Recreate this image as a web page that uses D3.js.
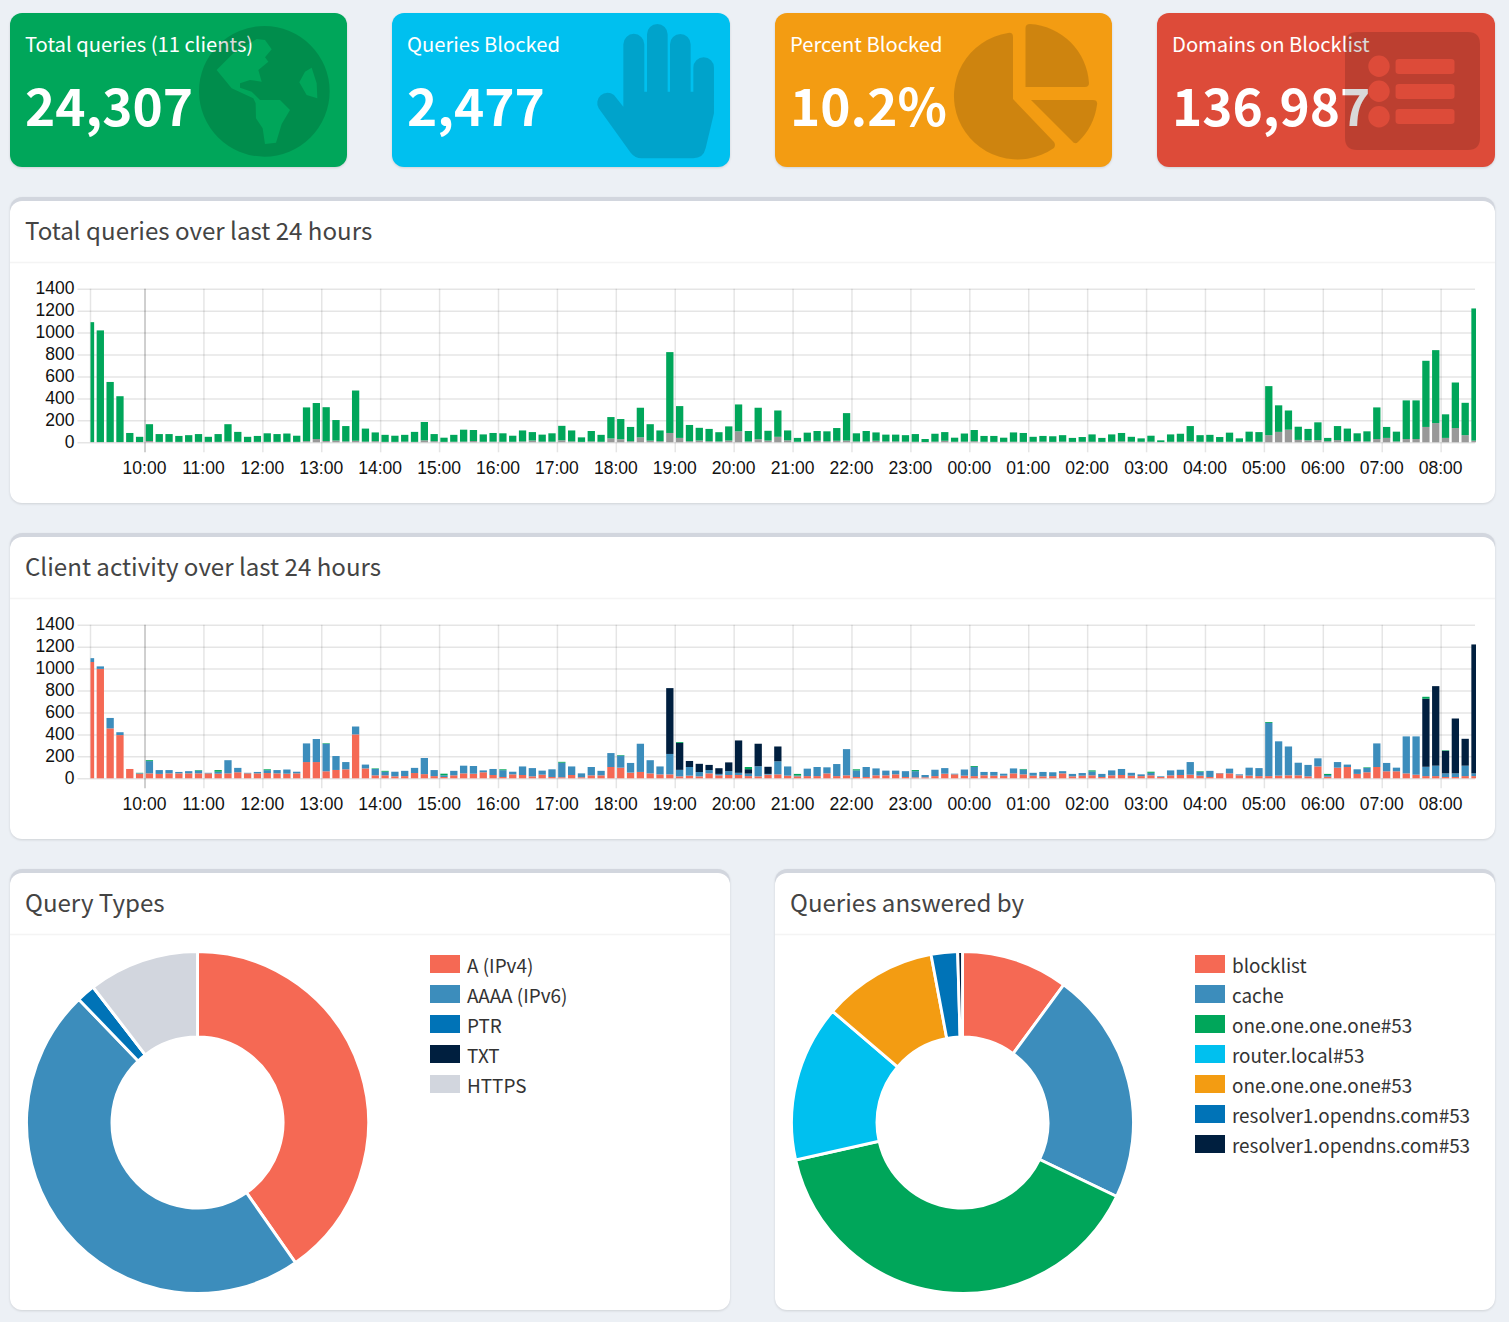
<!DOCTYPE html>
<html>
<head>
<meta charset="utf-8">
<title>Dashboard</title>
<script src="https://cdn.jsdelivr.net/npm/d3@7"></script>
<style>
  body { margin: 0; background: #ecf0f5; }
  svg { display: block; font-family: "Noto Sans CJK SC", "Noto Sans", sans-serif; }
  .tick text { font-family: "Liberation Sans", Arial, sans-serif; font-size: 17.5px; fill: #111; }
  .domain { display: none; }
</style>
</head>
<body>
<div id="dash"></div>
<script>
/**
 * Summary cards on the top row.
 */
const cardLabels = ["Total queries (11 clients)", "Queries Blocked", "Percent Blocked", "Domains on Blocklist"];
const cardValues = ["24,307", "2,477", "10.2%", "136,987"];

/**
 * Tick labels of both bar charts.
 */
const hourLabels = ["10:00", "11:00", "12:00", "13:00", "14:00", "15:00", "16:00", "17:00", "18:00", "19:00", "20:00",
  "21:00", "22:00", "23:00", "00:00", "01:00", "02:00", "03:00", "04:00", "05:00", "06:00", "07:00", "08:00"];
const countTicks = [0, 200, 400, 600, 800, 1000, 1200, 1400];

/**
 * Queries per 10 minute slot, first slot is 09:05.
 */
const queriesTotal = [
  1095, 1020, 550, 420, 85, 50, 165, 75, 75, 58,
  65, 75, 50, 75, 165, 95, 50, 58, 82, 75,
  80, 60, 318, 358, 320, 203, 148, 472, 125, 90,
  68, 60, 68, 95, 185, 75, 42, 68, 115, 112,
  72, 85, 82, 60, 108, 93, 70, 82, 150, 108,
  45, 103, 68, 230, 212, 140, 315, 165, 108, 822,
  330, 158, 132, 122, 92, 145, 345, 103, 315, 105,
  290, 108, 40, 88, 103, 100, 130, 266, 82, 103,
  90, 70, 70, 65, 75, 30, 78, 93, 42, 80,
  112, 58, 58, 42, 90, 85, 50, 58, 55, 65,
  40, 48, 72, 40, 72, 85, 50, 36, 60, 18,
  72, 78, 148, 65, 68, 48, 88, 36, 97, 93,
  512, 337, 290, 142, 122, 182, 40, 148, 125, 82,
  100, 318, 140, 97, 382, 382, 743, 840, 255, 545,
  360, 1220];

const queriesBlocked = [
  3, 3, 3, 3, 3, 3, 12, 4, 4, 4,
  4, 4, 4, 4, 8, 5, 3, 4, 4, 4,
  4, 4, 10, 30, 12, 16, 8, 14, 6, 10,
  4, 4, 6, 4, 18, 10, 4, 5, 6, 12,
  5, 6, 5, 5, 8, 16, 6, 6, 18, 8,
  4, 8, 5, 35, 28, 10, 45, 15, 10, 85,
  40, 10, 16, 10, 8, 16, 100, 8, 28, 16,
  50, 18, 5, 8, 14, 10, 14, 16, 8, 8,
  14, 8, 8, 6, 5, 3, 6, 14, 5, 6,
  10, 5, 4, 4, 5, 4, 5, 6, 4, 6,
  4, 5, 5, 4, 5, 8, 6, 5, 6, 3,
  5, 5, 10, 5, 5, 4, 5, 4, 6, 5,
  65, 95, 115, 22, 18, 20, 10, 20, 10, 10,
  8, 30, 40, 8, 30, 30, 140, 175, 40, 130,
  65, 15];

/**
 * Client activity, the blue client fills what is left of the slot's total.
 */
const clientRed = [
  1060, 997, 455, 394, 85, 42, 45, 40, 45, 45,
  45, 45, 45, 42, 45, 55, 45, 45, 48, 45,
  42, 45, 148, 148, 64, 76, 82, 400, 90, 27,
  27, 18, 20, 48, 38, 20, 12, 27, 45, 42,
  55, 30, 12, 36, 30, 18, 33, 12, 10, 30,
  10, 27, 27, 103, 97, 52, 58, 45, 36, 36,
  18, 24, 18, 45, 27, 30, 30, 20, 18, 33,
  36, 24, 18, 20, 20, 45, 20, 27, 12, 12,
  27, 27, 36, 12, 9, 9, 20, 42, 36, 24,
  20, 27, 24, 24, 45, 36, 24, 18, 20, 45,
  18, 24, 27, 12, 27, 30, 24, 20, 27, 12,
  27, 30, 33, 24, 12, 45, 45, 27, 24, 20,
  20, 24, 27, 27, 18, 108, 15, 97, 103, 40,
  55, 103, 64, 64, 45, 33, 20, 20, 12, 12,
  20, 20];

const clientNavy = [
  0, 0, 0, 0, 0, 0, 0, 0, 0, 0,
  0, 0, 0, 0, 0, 0, 0, 0, 0, 0,
  0, 0, 0, 0, 0, 0, 0, 0, 0, 0,
  0, 0, 0, 0, 0, 0, 0, 0, 0, 0,
  0, 0, 0, 0, 0, 0, 0, 0, 0, 0,
  0, 0, 0, 0, 0, 0, 0, 0, 0, 600,
  245, 55, 75, 47, 52, 80, 295, 40, 205, 65,
  135, 0, 0, 0, 0, 0, 0, 0, 0, 0,
  0, 0, 0, 0, 0, 0, 0, 0, 0, 0,
  0, 0, 0, 0, 0, 0, 0, 0, 0, 0,
  0, 0, 0, 0, 0, 0, 0, 0, 0, 0,
  0, 0, 0, 0, 0, 0, 0, 0, 0, 0,
  0, 0, 0, 0, 0, 0, 0, 0, 0, 0,
  0, 0, 0, 0, 0, 0, 620, 725, 205, 500,
  245, 1175];

const clientGreen = [
  0, 0, 0, 0, 0, 3, 8, 0, 0, 0,
  0, 5, 0, 15, 0, 0, 0, 0, 8, 0,
  0, 0, 0, 0, 5, 0, 0, 0, 0, 5,
  8, 0, 0, 0, 0, 0, 15, 0, 0, 0,
  0, 0, 8, 0, 0, 0, 0, 0, 8, 0,
  0, 0, 0, 0, 5, 0, 0, 0, 0, 0,
  8, 0, 0, 0, 0, 0, 0, 20, 0, 0,
  0, 0, 15, 0, 0, 0, 0, 0, 10, 0,
  0, 0, 0, 0, 10, 0, 0, 0, 0, 0,
  8, 0, 0, 0, 0, 5, 0, 0, 0, 0,
  0, 0, 10, 0, 0, 0, 0, 0, 10, 0,
  0, 0, 0, 5, 0, 0, 0, 0, 0, 0,
  8, 0, 0, 0, 0, 0, 10, 0, 0, 0,
  5, 0, 0, 0, 0, 0, 18, 0, 5, 0,
  0, 0];

/**
 * Doughnut charts.
 */
const queryTypeLabels = ["A (IPv4)", "AAAA (IPv6)", "PTR", "TXT", "HTTPS"];
const queryTypeValues = [40.3, 47.5, 1.75, 0.01, 10.45];
const answeredLabels = ["blocklist", "cache", "one.one.one.one#53", "router.local#53", "one.one.one.one#53", "resolver1.opendns.com#53", "resolver1.opendns.com#53"];
const answeredValues = [10.1, 22.05, 39.4, 14.8, 10.8, 2.5, 0.45];

const red = "#f56954", blue = "#3c8dbc", green = "#00a65a", cyan = "#00c0ef",
      orange = "#f39c12", midBlue = "#0073b7", navy = "#001f3f", silver = "#d2d6de";

const svg = d3.select("#dash").append("svg")
  .attr("width", 1509)
  .attr("height", 1322);

/* ---- summary cards ---- */
const cards = [
  { x: 10, w: 337, color: green },
  { x: 392, w: 338, color: cyan },
  { x: 775, w: 337, color: orange },
  { x: 1157, w: 338, color: "#dd4b39" }
];

cards.forEach((card, i) => {
  svg.append("rect")
    .attr("x", card.x).attr("y", 13)
    .attr("width", card.w).attr("height", 154)
    .attr("rx", 12)
    .attr("fill", card.color)
    .style("filter", "drop-shadow(0 1px 1px rgba(0,0,0,0.12))");
  svg.append("text")
    .attr("x", card.x + 15).attr("y", 52)
    .attr("fill", "#fff").attr("font-size", 20.2)
    .text(cardLabels[i]);
  svg.append("text")
    .attr("x", card.x + 15).attr("y", 126)
    .attr("fill", "#fff").attr("font-size", 51.3).attr("font-weight", 700)
    .text(cardValues[i]);
});

/* the icons sit over the text, the number on the red card shows it */
const icon = svg.append("g").attr("fill", "rgba(0,0,0,0.15)").attr("fill-rule", "evenodd");

icon.append("path")
  .attr("transform", "translate(190,20) scale(0.3333)")
  .attr("d", "M223 18 A196 196 0 1 0 223 410 A196 196 0 1 0 223 18 Z " +
    "M200 57 L225 60 L245 88 L225 112 L235 125 L205 150 L215 185 L180 180 L150 190 L150 203 L185 215 L210 240 L270 240 L300 270 L275 312 L258 368 L225 372 L218 325 L198 295 L197 250 L190 235 L125 205 L80 150 L130 100 Z " +
    "M365 143 L380 190 L382 235 L350 225 L328 187 L345 155 Z");

icon.append("path")
  .attr("transform", "translate(590,20) scale(0.3333)")
  .attr("d", "M100 73 A31 31 0 0 1 163 73 V215 H171 V43 A31 31 0 0 1 233 43 V215 H240 V73 A31 31 0 0 1 302 73 V215 H310 V143 A31 31 0 0 1 372 143 V280 L347 385 Q340 415 310 415 H155 Q135 415 122 398 L26 265 A31 31 0 0 1 72 225 L100 260 Z");

icon.append("path")
  .attr("d", "M1013 99 V37 Q1013 32 1008 33 A63.6 63.6 0 1 0 1054 148 Q1056 145 1054 142 Z " +
    "M1025.5 87 V28 Q1025.5 24 1030 24 A63 63 0 0 1 1089 83 Q1089 87 1085 87 Z " +
    "M1031 100 H1093 Q1098 100 1097 105 A63 63 0 0 1 1078 142 Q1075 145 1072 141 Z");

icon.append("path")
  .attr("d", "M1357 32 H1468 Q1480 32 1480 44 V138 Q1480 150 1468 150 H1357 Q1345 150 1345 138 V44 Q1345 32 1357 32 Z " +
    "M1379 55.5 A10.7 10.7 0 1 0 1379 76.9 A10.7 10.7 0 1 0 1379 55.5 Z " +
    "M1379 80.5 A10.7 10.7 0 1 0 1379 101.9 A10.7 10.7 0 1 0 1379 80.5 Z " +
    "M1379 106 A10.7 10.7 0 1 0 1379 127.4 A10.7 10.7 0 1 0 1379 106 Z " +
    "M1399 59 H1451 Q1454.5 59 1454.5 62 V71 Q1454.5 74 1451 74 H1399 Q1395.6 74 1395.6 71 V62 Q1395.6 59 1399 59 Z " +
    "M1399 84 H1451 Q1454.5 84 1454.5 87 V96 Q1454.5 99 1451 99 H1399 Q1395.6 99 1395.6 96 V87 Q1395.6 84 1399 84 Z " +
    "M1399 109 H1451 Q1454.5 109 1454.5 112 V121 Q1454.5 124 1451 124 H1399 Q1395.6 124 1395.6 121 V112 Q1395.6 109 1399 109 Z");

/**
 * White panel with the grey top edge, a title and a header rule.
 */
function drawBox(x, y, w, h, title) {
  svg.append("rect")
    .attr("x", x).attr("y", y)
    .attr("width", w).attr("height", h)
    .attr("rx", 12)
    .attr("fill", silver)
    .style("filter", "drop-shadow(0 1px 1px rgba(0,0,0,0.12))");
  svg.append("rect")
    .attr("x", x).attr("y", y + 4)
    .attr("width", w).attr("height", h - 4)
    .attr("rx", 12)
    .attr("fill", "#fff");
  svg.append("line")
    .attr("x1", x).attr("x2", x + w)
    .attr("y1", y + 65.5).attr("y2", y + 65.5)
    .attr("stroke", "#f4f4f4").attr("stroke-width", 1.5);
  svg.append("text")
    .attr("x", x + 15).attr("y", y + 43)
    .attr("fill", "#444").attr("font-size", 24.1)
    .text(title);
}

drawBox(10, 197, 1485, 306, "Total queries over last 24 hours");
drawBox(10, 533, 1485, 306, "Client activity over last 24 hours");
drawBox(10, 869, 720, 441, "Query Types");
drawBox(775, 869, 720, 441, "Queries answered by");

/* ---- bar charts ---- */
const firstSlot = new Date(2024, 0, 1, 9, 5);
const firstHour = new Date(2024, 0, 1, 10, 0);
const slotTimes = queriesTotal.map((d, i) => d3.timeMinute.offset(firstSlot, i * 10));
const hourTimes = hourLabels.map((d, i) => d3.timeHour.offset(firstHour, i));

const xTime = d3.scaleTime()
  .domain([slotTimes[0], slotTimes[slotTimes.length - 1]])
  .range([90.5, 1475]);
const plotWidth = 1475 - 90.5;
const barWidth = 7.3;

/**
 * One stacked bar chart, the series are stacked in the given order.
 */
function drawBars(zeroY, topY, keys, colors, rows, clipName) {
  const yCount = d3.scaleLinear().domain([0, 1400]).range([zeroY, topY]);
  const height = zeroY - topY;
  const chart = svg.append("g");

  /* y grid */
  const yAxis = chart.append("g")
    .attr("transform", "translate(90.5,0)")
    .call(d3.axisLeft(yCount).tickValues(countTicks).tickFormat(d => d).tickSize(13).tickPadding(3));
  yAxis.selectAll(".tick line")
    .attr("x1", -13).attr("x2", plotWidth)
    .attr("stroke", "rgba(0,0,0,0.1)").attr("stroke-width", 1.5);
  yAxis.selectAll(".tick text").attr("dy", "0.27em");

  /* x grid */
  const xAxis = chart.append("g")
    .attr("transform", "translate(0," + zeroY + ")")
    .call(d3.axisBottom(xTime).tickValues(hourTimes).tickFormat((d, i) => hourLabels[i]).tickSize(10));
  xAxis.selectAll(".tick line")
    .attr("y1", -height).attr("y2", 10)
    .attr("stroke", (d, i) => i == 0 ? "rgba(0,0,0,0.25)" : "rgba(0,0,0,0.1)")
    .attr("stroke-width", 1.5);
  xAxis.selectAll(".tick text").attr("x", -0.5).attr("y", 32).attr("dy", 0);

  chart.append("line")
    .attr("x1", 90.5).attr("x2", 90.5)
    .attr("y1", topY).attr("y2", zeroY)
    .attr("stroke", "rgba(0,0,0,0.1)").attr("stroke-width", 1.5);

  svg.append("clipPath").attr("id", clipName)
    .append("rect")
    .attr("x", 90.5).attr("y", topY)
    .attr("width", plotWidth + 1).attr("height", height + 1);

  const stacked = d3.stack().keys(keys)(rows);
  chart.append("g").attr("clip-path", "url(#" + clipName + ")")
    .selectAll("g")
    .data(stacked)
    .join("g")
    .attr("fill", (d, i) => colors[i])
    .selectAll("rect")
    .data(d => d)
    .join("rect")
    .attr("x", (d, i) => xTime(slotTimes[i]) - barWidth / 2)
    .attr("width", barWidth)
    .attr("y", d => yCount(d[1]))
    .attr("height", d => yCount(d[0]) - yCount(d[1]));
}

const queryRows = queriesTotal.map((total, i) => ({
  blocked: queriesBlocked[i],
  permitted: total - queriesBlocked[i]
}));
drawBars(442.3, 288.7, ["blocked", "permitted"], ["#999999", green], queryRows, "clipQueries");

const clientRows = queriesTotal.map((total, i) => ({
  red: clientRed[i],
  blue: Math.max(0, total - clientRed[i] - clientNavy[i] - clientGreen[i]),
  navy: clientNavy[i],
  green: clientGreen[i]
}));
drawBars(778.3, 624.7, ["red", "blue", "navy", "green"], [red, blue, navy, green], clientRows, "clipClients");

/* ---- doughnuts ---- */
function drawDoughnut(cx, cy, legendX, labels, values, colors) {
  const pie = d3.pie().sort(null)(values);
  const arc = d3.arc().innerRadius(85.5).outerRadius(171);

  svg.append("g")
    .attr("transform", "translate(" + cx + "," + cy + ")")
    .selectAll("path")
    .data(pie)
    .join("path")
    .attr("d", arc)
    .attr("fill", (d, i) => colors[i])
    .attr("stroke", "#fff")
    .attr("stroke-width", 2.9);

  const legend = svg.append("g").selectAll("g")
    .data(labels)
    .join("g")
    .attr("transform", (d, i) => "translate(" + legendX + "," + (955 + i * 30) + ")");
  legend.append("rect")
    .attr("width", 30).attr("height", 18)
    .attr("fill", (d, i) => colors[i]);
  legend.append("text")
    .attr("x", 37).attr("y", 17.5)
    .attr("fill", "#333").attr("font-size", 18.9)
    .text(d => d);
}

drawDoughnut(197.5, 1122.5, 430, queryTypeLabels, queryTypeValues, [red, blue, midBlue, navy, silver]);
drawDoughnut(962.5, 1122.5, 1195, answeredLabels, answeredValues, [red, blue, green, cyan, orange, midBlue, navy]);
</script>
</body>
</html>
